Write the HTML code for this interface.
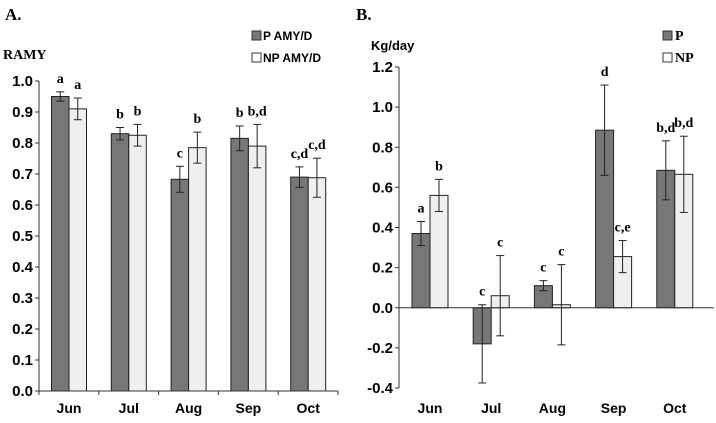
<!DOCTYPE html>
<html><head><meta charset="utf-8"><style>
body{margin:0;background:#fff}
svg text{font-weight:bold}
.s{font-family:"Liberation Sans",sans-serif}
.r{font-family:"Liberation Serif",serif}
</style></head><body>
<svg id="c" width="716" height="418" xmlns="http://www.w3.org/2000/svg">
<text x="5" y="20" class="r" font-size="17">A.</text>
<text x="3" y="59" class="r" font-size="14">RAMY</text>
<rect x="252" y="31" width="9" height="9" fill="#777" stroke="#333"/>
<text x="263" y="40" class="s" font-size="12">P AMY/D</text>
<rect x="252" y="53" width="9" height="9" fill="#fff" stroke="#333"/>
<text x="263" y="62" class="s" font-size="12">NP AMY/D</text>
<text x="356" y="20" class="r" font-size="17">B.</text>
<text x="371" y="50" class="s" font-size="13">Kg/day</text>
<rect x="663" y="31" width="9" height="9" fill="#777" stroke="#333"/>
<text x="675" y="40" class="r" font-size="14">P</text>
<rect x="663" y="53" width="9" height="9" fill="#fff" stroke="#333"/>
<text x="675" y="62" class="r" font-size="14">NP</text>
</svg>
<script>
const months=["Jun","Jul","Aug","Sep","Oct"];
const aP=[0.95,0.83,0.683,0.815,0.69];
const aNP=[0.91,0.825,0.785,0.79,0.688];
const aPerr=[0.015,0.02,0.042,0.04,0.033];
const aNPerr=[0.035,0.035,0.05,0.07,0.063];
const aPlab=["a","b","c","b","c,d"];
const aNPlab=["a","b","b","b,d","c,d"];
const aTicks=[0,0.1,0.2,0.3,0.4,0.5,0.6,0.7,0.8,0.9,1.0];
const bP=[0.37,-0.18,0.11,0.885,0.685];
const bNP=[0.56,0.06,0.015,0.255,0.665];
const bPerr=[0.06,0.195,0.025,0.225,0.147];
const bNPerr=[0.08,0.2,0.2,0.08,0.19];
const bPlab=["a","c","c","d","b,d"];
const bNPlab=["b","c","c","c,e","b,d"];
const bTicks=[-0.4,-0.2,0,0.2,0.4,0.6,0.8,1.0,1.2];

const svg=document.getElementById('c');
const NS="http://www.w3.org/2000/svg";
function mk(tag,attrs,name,txt){const e=document.createElementNS(NS,tag);for(const k in attrs)e.setAttribute(k,attrs[k]);


if(txt!==undefined)e.textContent=txt;svg.appendChild(e);return e;}

function panel(cfg){
 const y=v=>cfg.y0-(v-cfg.vmin)/(cfg.vmax-cfg.vmin)*(cfg.y0-cfg.y1);
 const cx=i=>cfg.cx0+i*cfg.step;
 const base=y(cfg.base);
 mk('line',{x1:cfg.ax,y1:y(cfg.vmax),x2:cfg.ax,y2:y(cfg.vmin),stroke:'#333'},cfg.id+'-y-axis');
 cfg.ticks.forEach(t=>{
  mk('line',{x1:cfg.ax-4,y1:y(t),x2:cfg.ax,y2:y(t),stroke:'#333'},cfg.id+'-y-tick');
  mk('text',{x:cfg.ax-6,y:y(t)+5,'text-anchor':'end','font-size':15,class:'s'},cfg.id+'-y-tick-label',t.toFixed(1));
 });
 cfg.P.forEach((v,i)=>{
  const w=cfg.bw;
  [[v,cfg.Perr[i],cfg.Plab[i],'#777',cx(i)-w,'p'],[cfg.NP[i],cfg.NPerr[i],cfg.NPlab[i],'#efefef',cx(i),'np']].forEach(([val,e,lab,fill,x,s])=>{
   const top=Math.min(y(val),base),h=Math.abs(y(val)-base);
   mk('rect',{x:x,y:top,width:w,height:h,fill:fill,stroke:'#222','stroke-width':1},cfg.id+'-bar-'+s+'-'+months[i].toLowerCase());
   const m=x+w/2;
   mk('line',{x1:m,y1:y(val+e),x2:m,y2:y(val-e),stroke:'#222'},cfg.id+'-error-bar');
   mk('line',{x1:m-4,y1:y(val+e),x2:m+4,y2:y(val+e),stroke:'#222'},cfg.id+'-error-cap');
   mk('line',{x1:m-4,y1:y(val-e),x2:m+4,y2:y(val-e),stroke:'#222'},cfg.id+'-error-cap');
   mk('text',{x:m,y:y(Math.max(val+e,val))-cfg.lgap,'text-anchor':'middle','font-size':14,class:'r'},cfg.id+'-sig-letter',lab);
  });
  mk('text',{x:cx(i),y:cfg.labY,'text-anchor':'middle','font-size':14,class:'s'},cfg.id+'-x-label',months[i]);
 });
 mk('line',{x1:cfg.ax,y1:base,x2:cfg.xend,y2:base,stroke:'#333'},cfg.id+'-x-axis');
 if(cfg.xticks) for(let i=0;i<=months.length;i++){const xx=cfg.ax+i*cfg.step;mk('line',{x1:xx,y1:base,x2:xx,y2:base+4,stroke:'#333'},cfg.id+'-x-tick');}
}
panel({id:'a',P:aP,NP:aNP,Perr:aPerr,NPerr:aNPerr,Plab:aPlab,NPlab:aNPlab,ticks:aTicks,
 vmin:0,vmax:1,y0:391,y1:81,base:0,ax:39,xend:338,cx0:69,step:59.8,bw:17.5,labY:413,lgap:9,xticks:true});
panel({id:'b',P:bP,NP:bNP,Perr:bPerr,NPerr:bNPerr,Plab:bPlab,NPlab:bNPlab,ticks:bTicks,
 vmin:-0.4,vmax:1.2,y0:388,y1:67,base:0,ax:399,xend:714,cx0:430,step:61.2,bw:18,labY:413,lgap:9,xticks:false});
</script>
</body></html>
